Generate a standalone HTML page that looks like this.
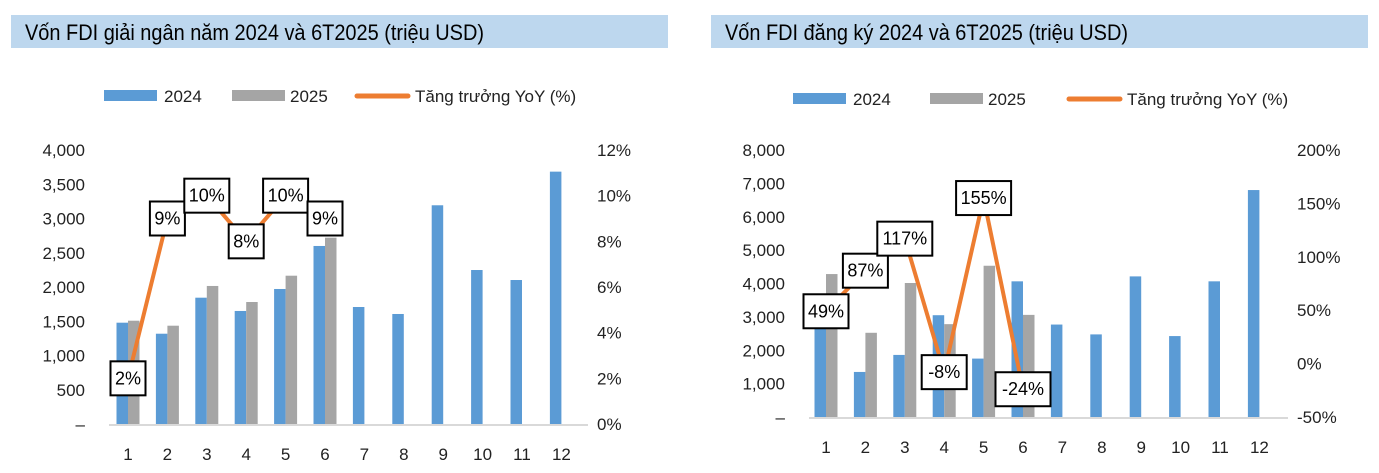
<!DOCTYPE html>
<html><head><meta charset="utf-8"><style>
html,body{margin:0;padding:0;background:#fff;}
svg{display:block;font-family:"Liberation Sans",sans-serif;}
</style></head><body>
<svg id="s" width="1379" height="473"></svg>
<script>
const categories=["1","2","3","4","5","6","7","8","9","10","11","12"];
const disb2024=[1479,1318,1844,1650,1971,2599,1708,1606,3193,2248,2102,3684];
const disb2025=[1508,1435,2015,1781,2165,2720];
const disbYoY=[2,9,10,8,10,9];
const disbLeftTicks=["–","500","1,000","1,500","2,000","2,500","3,000","3,500","4,000"];
const disbRightTicks=["0%","2%","4%","6%","8%","10%","12%"];
const reg2024=[2800,1350,1860,3050,1750,4065,2770,2475,4213,2425,4065,6800];
const reg2025=[4283,2523,4015,2782,4532,3060];
const regYoY=[49,87,117,-8,155,-24];
const regLeftTicks=["–","1,000","2,000","3,000","4,000","5,000","6,000","7,000","8,000"];
const regRightTicks=["-50%","0%","50%","100%","150%","200%"];

const NS="http://www.w3.org/2000/svg";
const svg=document.getElementById('s');
function mk(tag,attrs,parent,text){const e=document.createElementNS(NS,tag);for(const k in attrs)e.setAttribute(k,attrs[k]);if(text!==undefined)e.textContent=text;(parent||svg).appendChild(e);return e;}

function chart(o){
  const g=mk('g',{});
  
  
  const bar=mk('rect',{x:o.ox+11,y:15,width:657,height:33,fill:'#bdd7ee'},g);
  
  
  const t=mk('text',{x:o.ox+25,y:40,'font-size':22,fill:'#000',textLength:o.titleLen,lengthAdjust:'spacingAndGlyphs'},g,o.title);
  
  
  const L=o.leg;
  const lg=mk('g',{},g);
  
  
  mk('rect',{x:L[0],y:L[3]-6,width:53,height:11,fill:'#5b9bd5'},lg);
  mk('text',{x:L[0]+60,y:L[3]+6,'font-size':17,fill:'#222'},lg,'2024');
  mk('rect',{x:L[1],y:L[3]-6,width:53,height:11,fill:'#a5a5a5'},lg);
  mk('text',{x:L[1]+58,y:L[3]+6,'font-size':17,fill:'#222'},lg,'2025');
  mk('line',{x1:L[2]+2,y1:L[3],x2:L[2]+53,y2:L[3],stroke:'#ed7d31','stroke-width':5,'stroke-linecap':'round'},lg);
  mk('text',{x:L[2]+60,y:L[3]+6,'font-size':17,fill:'#222'},lg,'Tăng trưởng YoY (%)');
  const yL=v=>o.base-(v-o.lmin)/(o.lmax-o.lmin)*(o.base-o.top);
  const yR=v=>o.base-(v-o.rmin)/(o.rmax-o.rmin)*(o.base-o.top);
  const xC=i=>o.x0+i*o.step;
  o.lt.forEach((s,i)=>{const v=o.lmin+i*(o.lmax-o.lmin)/(o.lt.length-1);
    const e=mk('text',{x:o.ox+85,y:yL(v)+6,'font-size':17,'text-anchor':'end',fill:'#222'},g,s);
    });
  o.rt.forEach((s,i)=>{const v=o.rmin+i*(o.rmax-o.rmin)/(o.rt.length-1);
    const e=mk('text',{x:o.ox+597,y:yR(v)+6,'font-size':17,fill:'#222'},g,s);
    });
  categories.forEach((c,i)=>{
    const e=mk('text',{x:xC(i),y:o.base+36,'font-size':17,'text-anchor':'middle',fill:'#222'},g,c);
    });
  o.a.forEach((v,i)=>{const r=mk('rect',{x:xC(i)-11.5,y:yL(v),width:11.5,height:o.base-yL(v),fill:'#5b9bd5'},g);
    });
  o.b.forEach((v,i)=>{const r=mk('rect',{x:xC(i),y:yL(v),width:11.5,height:o.base-yL(v),fill:'#a5a5a5'},g);
    });
  const ax=mk('line',{x1:o.ox+109,y1:o.base+1,x2:o.ox+588,y2:o.base+1,stroke:'#d9d9d9','stroke-width':2},g);
  
  const pts=o.p.map((v,i)=>xC(i)+','+yR(v)).join(' ');
  const pl=mk('polyline',{points:pts,fill:'none',stroke:'#ed7d31','stroke-width':4,'stroke-linejoin':'round'},g);
  
  o.p.forEach((v,i)=>{const s=v+'%';const w=s.length*10+15;
    const lb=mk('g',{},g);
    
    mk('rect',{x:xC(i)-w/2,y:yR(v)-17,width:w,height:34,fill:'#fff',stroke:'#000','stroke-width':2},lb);
    mk('text',{x:xC(i),y:yR(v)+6,'font-size':18,'text-anchor':'middle',fill:'#000'},lb,s);});
}
chart({name:'disbursed-chart',ox:0,title:'Vốn FDI giải ngân năm 2024 và 6T2025 (triệu USD)',titleLen:459,
  leg:[104,232,355,96],base:424,top:150,lmin:0,lmax:4000,rmin:0,rmax:12,x0:128,step:39.4,
  lt:disbLeftTicks,rt:disbRightTicks,a:disb2024,b:disb2025,p:disbYoY});
chart({name:'registered-chart',ox:700,title:'Vốn FDI đăng ký 2024 và 6T2025 (triệu USD)',titleLen:403,
  leg:[793,930,1067,99],base:417,top:150,lmin:0,lmax:8000,rmin:-50,rmax:200,x0:826,step:39.4,
  lt:regLeftTicks,rt:regRightTicks,a:reg2024,b:reg2025,p:regYoY});
</script>
</body></html>
